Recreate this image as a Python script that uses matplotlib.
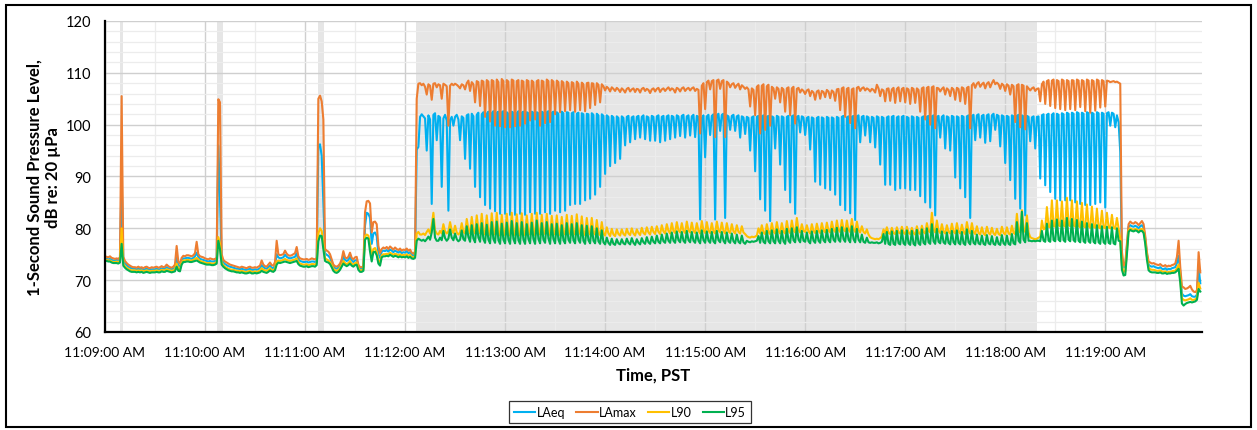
import numpy as np
import matplotlib.pyplot as plt
from matplotlib.patches import Rectangle

plt.rcParams['font.family'] = ['Lato', 'DejaVu Sans']

# 1-second sound levels (dB re 20 uPa), one value per second from 11:09:00
laeq = [
    74.2, 74.1, 74.0, 74.1, 73.9, 73.8, 73.8, 73.9, 73.8, 74.0,  # 0
    90.0, 73.8, 73.2, 72.9, 72.6, 72.4, 72.3, 72.2, 72.2, 72.1,
    72.2, 72.1, 72.2, 72.0, 72.1, 72.2, 72.1, 72.0, 72.1, 72.1,
    72.1, 72.2, 72.1, 72.1, 72.3, 72.2, 72.2, 72.5, 72.3, 72.2,
    72.1, 72.2, 72.5, 74.3, 72.8, 72.6, 73.8, 74.2, 74.2, 74.3,
    74.3, 74.2, 74.1, 74.3, 74.6, 75.3, 74.5, 74.1, 74.0, 73.9,
    73.8, 73.7, 73.6, 73.7, 73.6, 73.6, 73.7, 73.9, 96.0, 86.0,  # 60
    74.2, 73.4, 73.1, 72.9, 72.7, 72.6, 72.5, 72.4, 72.3, 72.2,
    72.2, 72.1, 72.2, 72.1, 72.0, 72.0, 72.1, 72.2, 72.0, 72.0,
    72.1, 72.0, 72.1, 72.3, 72.9, 72.5, 72.3, 72.2, 72.5, 72.8,
    72.4, 72.3, 72.8, 75.0, 74.4, 74.2, 74.3, 74.4, 74.9, 74.5,
    74.3, 74.2, 74.3, 74.4, 74.5, 75.2, 74.0, 73.7, 73.6, 73.5,
    73.5, 73.6, 73.4, 73.5, 73.6, 73.6, 73.5, 73.8, 96.0, 96.2,  # 120
    94.0, 85.0, 75.2, 74.9, 74.7, 74.3, 73.5, 72.6, 72.3, 72.2,
    72.4, 72.8, 73.5, 74.6, 73.9, 73.7, 73.9, 74.5, 73.8, 73.5,
    73.8, 73.9, 72.7, 72.2, 72.2, 72.4, 80.5, 83.0, 82.8, 82.0,
    77.0, 79.0, 79.2, 78.5, 75.0, 74.3, 75.5, 75.7, 75.6, 75.8,
    75.5, 75.9, 75.7, 75.4, 75.7, 75.5, 75.3, 75.6, 75.2, 75.4,
    75.3, 75.6, 75.2, 75.4, 74.9, 74.7, 75.0, 95.2, 95.7, 101.5,  # 180
    102.0, 101.6, 101.2, 95.0, 101.8, 101.0, 84.7, 101.9, 102.2, 97.0,
    101.7, 101.4, 88.0, 101.2, 101.9, 100.8, 83.4, 100.9, 101.5, 99.8,
    101.5, 101.9, 101.0, 97.0, 101.6, 101.3, 93.4, 101.8, 102.0, 91.5,
    102.1, 101.6, 88.0, 101.9, 102.3, 86.0, 102.0, 102.4, 84.5, 102.1,
    102.5, 83.8, 102.2, 102.6, 83.3, 102.3, 102.5, 82.8, 102.4, 102.6,
    82.8, 102.4, 102.1, 82.6, 102.5, 102.3, 82.6, 102.2, 102.6, 82.8,  # 240
    102.3, 102.5, 82.6, 102.4, 102.2, 83.1, 102.5, 102.3, 82.8, 102.4,
    102.2, 82.8, 102.5, 102.3, 83.1, 102.4, 102.6, 82.8, 102.3, 102.5,
    83.4, 102.4, 102.1, 83.1, 102.5, 102.2, 83.4, 102.4, 102.3, 84.5,
    102.2, 102.4, 84.7, 102.1, 102.3, 84.7, 102.2, 102.0, 85.4, 102.1,
    102.0, 85.7, 102.2, 101.9, 86.5, 102.1, 101.8, 88.0, 102.0, 101.7,
    90.5, 101.8, 101.5, 92.0, 101.7, 101.4, 92.6, 101.6, 101.3, 93.4,  # 300
    101.6, 101.3, 96.0, 101.5, 101.7, 96.6, 101.4, 101.6, 97.2, 101.5,
    101.7, 97.5, 101.5, 101.8, 97.2, 101.6, 101.4, 96.9, 101.7, 101.5,
    96.9, 101.6, 101.8, 96.6, 101.5, 101.7, 96.9, 101.6, 101.8, 97.2,
    101.7, 101.5, 97.5, 101.8, 101.6, 97.8, 101.7, 101.9, 97.5, 101.6,
    101.8, 97.9, 101.6, 101.9, 97.6, 101.7, 101.5, 81.7, 101.3, 101.8,
    93.7, 101.6, 101.9, 98.0, 101.7, 102.0, 81.7, 101.8, 102.1, 98.8,  # 360
    101.9, 102.1, 82.0, 101.8, 101.6, 99.0, 101.7, 101.9, 98.8, 101.6,
    101.8, 97.5, 101.6, 101.4, 98.2, 101.5, 101.3, 95.0, 101.4, 101.6,
    91.0, 101.5, 101.7, 85.6, 101.6, 101.8, 83.4, 101.5, 101.7, 81.4,
    101.6, 101.4, 95.4, 101.7, 101.5, 92.3, 101.6, 101.4, 87.4, 101.5,
    101.7, 85.0, 101.6, 101.8, 82.8, 101.5, 101.7, 98.5, 101.6, 101.4,
    98.0, 101.3, 101.5, 95.2, 101.4, 101.2, 89.0, 101.3, 101.5, 88.4,  # 420
    101.4, 101.2, 87.7, 101.5, 101.3, 87.4, 101.4, 101.2, 86.5, 101.5,
    101.3, 84.5, 101.5, 101.7, 83.5, 101.4, 101.6, 82.9, 101.5, 101.7,
    81.6, 101.6, 101.8, 96.6, 101.5, 101.7, 97.9, 101.6, 101.4, 96.6,
    101.5, 101.3, 95.6, 101.6, 101.4, 92.3, 101.5, 101.3, 88.4, 101.4,
    101.6, 88.4, 101.5, 101.7, 87.4, 101.4, 101.6, 87.7, 101.5, 101.7,
    87.7, 101.5, 101.3, 87.4, 101.6, 101.4, 87.4, 101.5, 101.3, 86.2,  # 480
    101.4, 101.6, 85.0, 101.5, 101.7, 84.0, 101.6, 101.8, 82.5, 101.5,
    101.7, 97.5, 101.5, 101.8, 95.4, 101.6, 101.4, 95.0, 101.7, 101.5,
    89.8, 101.6, 101.4, 87.7, 101.7, 101.5, 86.0, 101.6, 101.8, 82.0,
    101.7, 101.9, 97.0, 101.8, 102.0, 97.5, 101.7, 101.9, 96.5, 101.8,
    102.0, 96.8, 101.8, 102.1, 99.0, 101.9, 101.7, 95.8, 101.8, 101.6,
    92.6, 101.7, 101.5, 89.3, 101.8, 101.6, 85.7, 101.7, 101.9, 83.8,  # 540
    101.8, 101.6, 82.5, 101.7, 101.5, 96.8, 101.4, 101.6, 95.4, 101.5,
    101.6, 89.6, 101.8, 102.0, 88.3, 101.9, 102.1, 87.0, 101.9, 102.2,
    85.7, 102.1, 101.9, 85.4, 102.2, 102.0, 85.4, 102.3, 102.1, 85.4,
    102.3, 102.1, 85.0, 102.4, 102.2, 84.7, 102.3, 102.1, 84.5, 102.4,
    102.2, 84.5, 102.3, 102.1, 84.7, 102.4, 102.2, 85.0, 102.3, 102.1,
    84.0, 102.2, 102.4, 99.8, 102.3, 102.1, 99.5, 101.8, 100.5, 94.7,  # 600
    74.0, 72.4, 72.6, 76.5, 80.3, 80.6, 80.4, 80.3, 80.5, 80.3,
    80.0, 80.4, 80.6, 80.1, 78.0, 75.0, 73.0, 72.7, 72.6, 72.7,
    72.5, 72.4, 72.3, 72.5, 72.2, 72.1, 72.3, 72.0, 72.2, 72.1,
    72.3, 72.4, 72.5, 73.3, 74.7, 71.5, 67.4, 67.0, 66.9, 67.0,
    67.1, 67.3, 66.9, 66.8, 66.8, 67.2, 72.6, 69.4,
]

lamax = [
    74.6, 74.5, 74.4, 74.6, 74.3, 74.2, 74.1, 74.2, 74.1, 74.4,  # 0
    105.5, 74.5, 73.7, 73.3, 73.0, 72.8, 72.6, 72.5, 72.5, 72.4,
    72.6, 72.4, 72.5, 72.3, 72.5, 72.6, 72.4, 72.3, 72.5, 72.4,
    72.5, 72.6, 72.4, 72.5, 72.7, 72.5, 72.6, 73.0, 72.7, 72.5,
    72.4, 72.6, 73.0, 76.6, 73.6, 73.2, 74.3, 74.7, 74.6, 74.8,
    74.8, 74.7, 74.6, 74.8, 75.2, 77.4, 75.0, 74.6, 74.5, 74.4,
    74.2, 74.1, 74.0, 74.2, 74.1, 74.0, 74.1, 74.3, 104.9, 104.3,  # 60
    75.0, 73.9, 73.6, 73.4, 73.2, 73.0, 72.9, 72.8, 72.7, 72.6,
    72.5, 72.4, 72.6, 72.5, 72.4, 72.3, 72.5, 72.6, 72.4, 72.4,
    72.5, 72.4, 72.6, 72.8, 73.8, 73.0, 72.7, 72.6, 73.0, 73.4,
    72.9, 72.8, 73.5, 77.6, 75.0, 74.8, 74.9, 75.0, 75.7, 75.1,
    74.8, 74.7, 74.8, 75.0, 75.2, 76.4, 74.6, 74.2, 74.1, 74.0,
    74.0, 74.1, 73.9, 74.0, 74.2, 74.1, 74.0, 74.3, 105.0, 105.6,  # 120
    104.5, 101.0, 76.0, 75.7, 75.5, 75.0, 74.0, 73.0, 72.7, 72.6,
    72.8, 73.2, 74.0, 75.6, 74.4, 74.2, 74.5, 75.3, 74.3, 74.0,
    74.4, 74.5, 73.0, 72.5, 72.5, 72.7, 83.1, 85.2, 85.3, 84.8,
    79.2, 81.2, 81.3, 80.8, 76.6, 75.2, 76.0, 76.3, 76.1, 76.4,
    76.0, 76.5, 76.2, 75.9, 76.3, 76.0, 75.8, 76.1, 75.7, 75.9,
    75.8, 76.1, 75.7, 75.9, 75.3, 75.1, 75.5, 105.0, 107.9, 108.0,  # 180
    107.6, 107.9, 107.3, 105.8, 107.8, 107.5, 104.8, 107.9, 108.0, 107.2,
    107.8, 107.6, 105.0, 107.9, 107.7, 107.4, 99.8, 107.5, 107.9, 107.6,
    107.9, 107.7, 107.4, 107.0, 107.8, 107.6, 106.8, 108.0, 108.5, 106.5,
    108.2, 107.8, 104.3, 108.4, 108.2, 103.6, 108.5, 108.3, 101.5, 108.6,
    108.3, 100.6, 108.6, 108.4, 99.8, 108.7, 108.2, 99.7, 108.8, 108.4,
    99.5, 108.6, 108.3, 99.5, 108.7, 108.5, 99.7, 108.4, 108.6, 99.8,  # 240
    108.5, 108.3, 100.2, 108.6, 108.4, 100.8, 108.5, 108.2, 101.0, 108.4,
    108.6, 99.8, 108.5, 108.3, 100.3, 108.7, 108.4, 100.5, 108.6, 108.3,
    102.0, 108.5, 108.2, 102.4, 108.4, 108.1, 102.6, 108.3, 108.0, 102.8,
    108.2, 108.0, 102.5, 108.3, 107.9, 102.8, 108.1, 107.8, 102.6, 108.0,
    108.1, 103.2, 108.0, 107.9, 103.8, 108.0, 107.7, 104.3, 107.8, 107.4,
    106.6, 107.3, 107.0, 106.4, 107.2, 106.9, 106.5, 107.1, 106.8, 106.3,  # 300
    107.0, 106.7, 106.2, 106.9, 107.1, 106.4, 106.8, 107.0, 106.3, 106.9,
    106.8, 106.2, 106.9, 107.1, 106.5, 106.9, 106.7, 106.1, 106.8, 107.0,
    106.4, 106.9, 107.1, 106.3, 106.8, 107.0, 106.5, 106.9, 107.2, 106.6,
    107.0, 106.8, 106.2, 107.1, 106.9, 106.4, 107.0, 107.2, 106.5, 106.9,
    107.1, 106.6, 107.0, 107.2, 106.5, 106.9, 106.7, 98.3, 107.5, 108.0,
    103.0, 108.2, 108.5, 106.8, 108.4, 108.6, 97.6, 108.5, 108.7, 106.9,  # 360
    108.4, 108.6, 97.6, 108.3, 108.0, 107.2, 107.8, 108.0, 107.1, 107.6,
    107.9, 106.8, 107.6, 107.3, 106.9, 107.2, 106.8, 103.5, 107.0, 106.7,
    101.8, 107.3, 107.6, 98.3, 107.5, 107.8, 99.0, 107.4, 107.7, 99.8,
    107.3, 107.0, 105.0, 107.2, 106.9, 104.3, 107.1, 106.8, 102.5, 107.0,
    107.2, 101.8, 107.0, 107.3, 100.2, 106.9, 107.1, 106.2, 106.8, 106.5,
    105.9, 106.6, 106.8, 105.5, 106.5, 106.2, 104.8, 106.4, 106.6, 105.0,  # 420
    106.5, 106.3, 105.3, 106.7, 106.4, 105.1, 106.6, 106.3, 104.6, 106.8,
    106.9, 102.8, 107.0, 107.2, 101.5, 106.9, 107.1, 100.3, 106.8, 107.0,
    99.3, 107.1, 107.3, 106.5, 107.0, 107.2, 106.6, 107.0, 106.8, 106.4,
    106.9, 106.7, 106.2, 107.7, 107.0, 105.5, 106.8, 106.6, 104.5, 106.9,
    107.0, 104.6, 106.8, 107.1, 104.2, 106.9, 107.2, 104.5, 106.9, 107.1,
    104.3, 107.0, 106.8, 104.0, 107.1, 106.9, 104.2, 107.0, 106.7, 102.5,  # 480
    107.0, 107.2, 101.0, 107.1, 107.3, 100.0, 107.2, 107.4, 99.3, 107.1,
    107.0, 106.4, 106.9, 107.2, 105.8, 107.0, 106.7, 105.5, 107.1, 106.8,
    104.8, 107.1, 106.9, 104.5, 107.2, 107.0, 104.0, 107.1, 107.3, 99.3,
    107.6, 108.0, 107.1, 107.9, 108.2, 107.3, 107.8, 108.1, 107.0, 107.9,
    108.2, 107.2, 108.0, 108.6, 107.8, 108.1, 107.8, 106.9, 107.9, 107.6,
    106.5, 107.8, 107.5, 105.8, 107.7, 107.4, 100.5, 107.6, 107.8, 99.5,  # 540
    107.7, 107.5, 99.1, 107.4, 107.0, 106.6, 107.0, 107.2, 106.5, 106.9,
    107.0, 104.5, 107.8, 108.3, 104.0, 108.4, 108.6, 103.6, 108.5, 108.7,
    103.2, 108.6, 108.4, 103.0, 108.7, 108.5, 102.8, 108.6, 108.4, 103.0,
    108.6, 108.5, 102.8, 108.7, 108.5, 103.4, 108.6, 108.4, 102.6, 108.7,
    108.5, 102.3, 108.6, 108.4, 102.7, 108.7, 108.5, 103.3, 108.6, 108.4,
    103.5, 108.5, 108.4, 108.2, 108.3, 108.4, 108.2, 108.3, 108.1, 107.9,  # 600
    75.5, 72.8, 73.2, 77.0, 80.8, 81.3, 81.0, 80.9, 81.2, 81.0,
    80.6, 81.0, 81.4, 80.8, 78.5, 75.4, 73.6, 73.4, 73.2, 73.3,
    73.1, 73.0, 72.9, 73.1, 72.8, 72.7, 72.9, 72.6, 72.8, 72.7,
    72.9, 73.0, 73.2, 74.5, 77.6, 72.5, 68.8, 68.6, 68.3, 68.4,
    68.6, 68.9, 68.2, 67.8, 67.7, 68.0, 75.4, 71.5,
]

l90 = [
    74.0, 73.9, 73.8, 73.8, 73.6, 73.5, 73.5, 73.6, 73.5, 73.7,  # 0
    80.0, 73.2, 72.7, 72.4, 72.2, 72.0, 71.9, 71.9, 71.9, 71.8,
    71.9, 71.8, 71.9, 71.7, 71.8, 71.9, 71.8, 71.7, 71.8, 71.8,
    71.8, 71.9, 71.8, 71.8, 72.0, 71.9, 71.9, 72.1, 72.0, 71.9,
    71.8, 71.9, 72.1, 73.2, 72.2, 72.1, 73.3, 73.8, 73.8, 73.9,
    73.9, 73.8, 73.8, 73.9, 74.1, 74.3, 74.0, 73.7, 73.6, 73.5,
    73.4, 73.3, 73.3, 73.3, 73.2, 73.2, 73.3, 73.5, 78.3, 77.0,  # 60
    73.5, 72.9, 72.6, 72.4, 72.2, 72.1, 72.0, 72.0, 71.9, 71.8,
    71.8, 71.7, 71.8, 71.7, 71.6, 71.6, 71.7, 71.8, 71.6, 71.6,
    71.7, 71.6, 71.7, 71.9, 72.3, 72.0, 71.9, 71.8, 72.0, 72.3,
    72.0, 71.9, 72.3, 73.6, 73.8, 73.7, 73.8, 73.9, 74.1, 73.9,
    73.8, 73.7, 73.8, 73.9, 74.0, 74.2, 73.5, 73.2, 73.1, 73.0,
    73.0, 73.1, 72.9, 73.0, 73.1, 73.1, 73.0, 73.3, 79.0, 80.0,  # 120
    79.5, 77.0, 74.2, 74.0, 73.8, 73.5, 72.9, 72.2, 71.9, 71.8,
    72.0, 72.4, 73.0, 73.7, 73.3, 73.1, 73.3, 73.7, 73.2, 73.0,
    73.3, 73.4, 72.3, 71.9, 71.9, 72.0, 78.5, 78.8, 78.6, 77.0,
    74.5, 76.0, 76.2, 75.5, 73.8, 73.4, 74.8, 75.0, 75.0, 75.1,
    75.0, 75.3, 75.1, 74.9, 75.1, 75.0, 74.8, 75.0, 74.8, 74.9,
    74.8, 75.0, 74.7, 74.9, 74.5, 74.4, 74.6, 79.0, 79.3, 78.8,  # 180
    78.8, 79.0, 78.7, 79.3, 79.8, 79.0, 80.5, 83.0, 79.6, 79.0,
    78.8, 79.5, 79.0, 80.8, 79.4, 79.0, 79.4, 81.2, 79.6, 79.1,
    80.5, 79.2, 78.8, 79.2, 81.0, 79.3, 79.0, 81.8, 79.8, 79.0,
    82.2, 79.6, 79.0, 82.5, 79.8, 79.0, 82.8, 79.5, 78.8, 82.5,
    79.4, 78.7, 82.9, 79.6, 78.8, 83.0, 79.3, 78.6, 82.6, 79.5,
    78.7, 82.8, 79.4, 78.6, 83.0, 79.5, 78.7, 82.7, 79.3, 78.6,  # 240
    82.9, 79.4, 78.7, 82.5, 79.5, 78.8, 82.8, 79.6, 78.7, 83.0,
    79.5, 78.8, 82.6, 79.4, 78.9, 82.8, 79.6, 78.7, 82.4, 79.5,
    78.8, 82.5, 79.4, 78.7, 82.2, 79.3, 78.8, 82.6, 79.4, 78.9,
    82.4, 79.3, 78.8, 82.7, 79.5, 78.9, 82.3, 79.2, 78.7, 82.0,
    79.3, 78.8, 82.0, 79.2, 78.8, 81.6, 79.1, 78.7, 81.2, 79.0,
    78.6, 80.2, 79.0, 78.5, 79.9, 78.8, 78.5, 79.8, 78.9, 78.6,  # 300
    79.8, 78.9, 78.6, 79.9, 79.0, 78.7, 80.0, 79.0, 78.6, 79.8,
    79.1, 78.7, 80.1, 79.1, 78.8, 80.2, 79.2, 78.8, 80.3, 79.3,
    78.9, 80.4, 79.3, 78.9, 80.6, 79.4, 79.0, 80.8, 79.5, 79.0,
    81.0, 79.5, 79.1, 81.2, 79.6, 79.2, 81.0, 79.5, 79.1, 81.3,
    79.6, 79.2, 81.1, 79.5, 79.1, 81.0, 79.5, 79.0, 81.4, 79.6,
    79.1, 81.2, 79.5, 79.1, 81.0, 79.4, 79.0, 81.3, 79.6, 79.2,  # 360
    81.1, 79.5, 79.0, 81.0, 79.4, 79.1, 80.8, 79.4, 79.0, 80.6,
    79.3, 79.0, 80.4, 79.2, 78.9, 78.5, 78.3, 78.2, 78.4, 78.3,
    78.4, 78.6, 80.0, 79.0, 80.6, 79.2, 78.9, 80.8, 79.3, 78.9,
    81.0, 79.4, 79.0, 81.2, 79.5, 79.0, 81.0, 79.4, 79.0, 81.4,
    79.5, 79.1, 81.5, 79.6, 79.2, 82.0, 79.7, 79.2, 80.8, 79.5,
    79.3, 80.6, 79.4, 79.0, 80.8, 79.5, 79.1, 80.9, 79.5, 79.1,  # 420
    81.0, 79.6, 79.2, 81.1, 79.6, 79.2, 81.3, 79.7, 79.3, 81.5,
    79.7, 79.3, 81.6, 79.8, 79.4, 81.5, 79.7, 79.3, 81.8, 79.8,
    79.3, 81.3, 79.7, 79.2, 80.4, 79.3, 79.0, 79.8, 78.8, 78.3,
    78.1, 78.0, 77.9, 78.0, 77.9, 78.1, 78.4, 79.8, 79.0, 80.2,
    79.1, 78.9, 80.1, 79.1, 78.9, 80.2, 79.2, 79.0, 80.3, 79.2,
    78.9, 80.3, 79.2, 78.9, 80.1, 79.1, 78.8, 80.4, 79.2, 78.9,  # 480
    80.5, 79.3, 79.0, 81.0, 79.5, 79.2, 83.0, 79.8, 79.2, 81.5,
    79.5, 79.1, 80.8, 79.4, 79.0, 80.6, 79.3, 79.0, 80.9, 79.4,
    79.0, 81.0, 79.4, 79.0, 80.7, 79.3, 78.9, 81.2, 79.5, 79.0,
    81.0, 79.3, 78.9, 80.4, 79.1, 78.8, 80.2, 79.0, 78.7, 80.3,
    79.1, 78.8, 80.1, 79.0, 78.7, 79.9, 78.9, 78.7, 80.3, 79.1,
    78.8, 80.2, 79.0, 78.8, 80.5, 79.1, 78.9, 82.8, 79.6, 79.2,  # 540
    83.5, 79.7, 79.3, 82.5, 79.2, 78.3, 78.1, 78.0, 77.9, 78.0,
    78.2, 78.4, 81.5, 79.8, 80.0, 84.1, 80.3, 80.2, 85.4, 80.5,
    80.3, 85.4, 80.6, 80.4, 85.2, 80.6, 80.3, 85.9, 80.7, 80.4,
    85.4, 80.6, 80.3, 85.2, 80.5, 80.2, 84.9, 80.4, 80.2, 84.6,
    80.4, 80.1, 84.2, 80.3, 80.1, 83.8, 80.2, 80.0, 83.4, 80.2,
    80.0, 83.0, 80.2, 80.0, 82.6, 80.1, 79.9, 82.0, 80.0, 78.0,  # 600
    72.8, 71.6, 71.7, 75.5, 79.6, 80.0, 79.8, 79.7, 79.9, 79.8,
    79.5, 79.8, 79.9, 79.5, 77.5, 74.5, 72.4, 72.1, 72.0, 72.0,
    71.9, 71.8, 71.8, 71.9, 71.7, 71.6, 71.7, 71.5, 71.6, 71.6,
    71.7, 71.8, 71.8, 72.3, 73.0, 70.2, 66.5, 66.2, 66.1, 66.2,
    66.3, 66.5, 66.2, 66.2, 66.3, 66.6, 69.5, 68.4,
]

l95 = [
    73.8, 73.7, 73.6, 73.6, 73.4, 73.3, 73.3, 73.3, 73.2, 73.4,  # 0
    77.0, 72.8, 72.4, 72.1, 71.9, 71.7, 71.6, 71.6, 71.6, 71.5,
    71.6, 71.5, 71.6, 71.4, 71.5, 71.6, 71.5, 71.4, 71.5, 71.5,
    71.5, 71.6, 71.5, 71.5, 71.7, 71.6, 71.6, 71.8, 71.7, 71.6,
    71.5, 71.6, 71.7, 72.6, 71.8, 71.7, 73.0, 73.5, 73.5, 73.6,
    73.6, 73.5, 73.5, 73.6, 73.7, 73.8, 73.6, 73.4, 73.3, 73.2,
    73.1, 73.0, 73.0, 73.0, 72.9, 72.9, 73.0, 73.2, 77.6, 76.0,  # 60
    73.0, 72.6, 72.3, 72.1, 71.9, 71.8, 71.7, 71.7, 71.6, 71.5,
    71.5, 71.4, 71.5, 71.4, 71.3, 71.3, 71.4, 71.5, 71.3, 71.3,
    71.4, 71.3, 71.4, 71.5, 71.8, 71.6, 71.5, 71.4, 71.6, 71.9,
    71.7, 71.6, 71.9, 73.0, 73.4, 73.3, 73.4, 73.5, 73.6, 73.5,
    73.4, 73.3, 73.4, 73.5, 73.6, 73.7, 73.1, 72.8, 72.7, 72.6,
    72.6, 72.7, 72.5, 72.6, 72.7, 72.7, 72.6, 72.9, 77.5, 78.6,  # 120
    78.5, 76.0, 73.7, 73.5, 73.4, 73.1, 72.5, 71.8, 71.5, 71.4,
    71.6, 72.0, 72.6, 73.2, 72.9, 72.7, 72.9, 73.2, 72.8, 72.6,
    72.9, 73.0, 72.0, 71.6, 71.6, 71.8, 77.8, 78.2, 78.0, 75.5,
    73.6, 75.4, 75.5, 74.8, 73.2, 72.8, 74.4, 74.6, 74.6, 74.7,
    74.6, 74.9, 74.7, 74.5, 74.7, 74.6, 74.4, 74.6, 74.4, 74.5,
    74.4, 74.6, 74.3, 74.5, 74.2, 74.1, 74.3, 77.6, 78.0, 77.8,  # 180
    77.6, 77.8, 77.5, 77.9, 78.4, 77.8, 79.2, 81.8, 78.2, 77.6,
    77.6, 78.2, 77.7, 79.5, 78.1, 77.6, 78.0, 79.8, 78.2, 77.7,
    79.0, 77.9, 77.5, 77.8, 79.6, 77.9, 77.6, 80.4, 78.3, 77.4,
    80.6, 78.0, 77.3, 80.8, 78.2, 77.4, 81.0, 77.9, 77.2, 80.7,
    77.8, 77.1, 81.2, 77.9, 77.2, 81.3, 77.7, 77.0, 80.9, 77.8,
    77.1, 81.1, 77.8, 77.0, 81.4, 77.9, 77.1, 81.0, 77.7, 77.0,  # 240
    81.2, 77.8, 77.0, 80.8, 77.9, 77.1, 81.1, 77.9, 77.0, 81.5,
    77.9, 77.1, 81.0, 77.8, 77.2, 81.2, 78.0, 77.0, 80.8, 77.9,
    77.1, 80.9, 77.8, 77.0, 80.6, 77.7, 77.1, 81.0, 77.8, 77.2,
    80.8, 77.7, 77.1, 81.0, 77.8, 77.2, 80.6, 77.6, 77.0, 80.5,
    77.7, 77.1, 80.4, 77.6, 77.1, 80.0, 77.5, 77.0, 79.6, 77.3,
    76.9, 78.2, 77.2, 76.8, 78.0, 77.0, 76.8, 77.9, 77.1, 76.9,  # 300
    77.9, 77.1, 76.9, 78.0, 77.2, 76.9, 78.1, 77.2, 76.8, 77.9,
    77.2, 76.9, 78.1, 77.3, 77.0, 78.3, 77.3, 77.0, 78.4, 77.4,
    77.1, 78.6, 77.4, 77.1, 78.8, 77.5, 77.2, 79.0, 77.6, 77.2,
    79.2, 77.6, 77.2, 79.4, 77.7, 77.3, 79.3, 77.6, 77.2, 79.5,
    77.7, 77.3, 79.3, 77.6, 77.2, 79.2, 77.6, 77.1, 79.6, 77.7,
    77.2, 79.4, 77.6, 77.2, 79.3, 77.5, 77.1, 79.5, 77.7, 77.3,  # 360
    79.3, 77.6, 77.1, 79.2, 77.5, 77.2, 79.0, 77.5, 77.1, 78.8,
    77.4, 77.1, 78.6, 77.3, 77.0, 77.6, 77.4, 77.3, 77.5, 77.4,
    77.5, 77.6, 78.5, 77.2, 79.2, 77.4, 77.1, 79.5, 77.5, 77.1,
    79.6, 77.5, 77.1, 79.8, 77.6, 77.1, 79.5, 77.5, 77.0, 79.9,
    77.6, 77.2, 80.0, 77.7, 77.3, 80.2, 77.8, 77.3, 79.5, 77.6,
    77.4, 79.2, 77.5, 77.1, 79.4, 77.6, 77.2, 79.5, 77.6, 77.2,  # 420
    79.6, 77.7, 77.3, 79.7, 77.7, 77.3, 79.9, 77.8, 77.4, 80.1,
    77.8, 77.4, 80.2, 77.9, 77.4, 80.0, 77.8, 77.3, 80.4, 77.9,
    77.3, 79.9, 77.8, 77.3, 78.8, 77.4, 77.2, 78.2, 77.3, 77.2,
    77.3, 77.2, 77.2, 77.3, 77.1, 77.2, 77.4, 78.9, 77.0, 79.3,
    77.0, 76.8, 79.4, 77.0, 76.8, 79.5, 77.1, 76.9, 79.6, 77.1,
    76.8, 79.6, 77.1, 76.8, 79.5, 77.0, 76.7, 79.7, 77.1, 76.8,  # 480
    79.8, 77.2, 76.9, 80.0, 77.3, 77.0, 80.8, 77.5, 77.0, 79.9,
    77.4, 77.1, 79.4, 77.3, 77.0, 79.2, 77.2, 76.9, 79.5, 77.3,
    76.9, 79.6, 77.2, 76.9, 79.3, 77.1, 76.8, 79.8, 77.3, 76.9,
    79.5, 77.2, 76.9, 78.8, 77.1, 76.9, 78.6, 77.0, 76.8, 78.7,
    77.1, 76.9, 78.5, 77.0, 76.8, 78.3, 77.0, 76.8, 78.7, 77.1,
    76.8, 78.6, 77.0, 76.8, 78.9, 77.1, 76.9, 81.2, 77.6, 77.2,  # 540
    83.2, 77.8, 77.3, 81.0, 77.6, 77.6, 77.5, 77.6, 77.5, 77.6,
    77.6, 77.5, 79.5, 77.6, 77.4, 80.9, 77.6, 77.4, 81.5, 77.7,
    77.5, 81.7, 77.8, 77.5, 81.5, 77.7, 77.4, 82.0, 77.8, 77.5,
    81.8, 77.7, 77.4, 81.6, 77.6, 77.3, 81.3, 77.5, 77.2, 81.0,
    77.5, 77.2, 80.8, 77.4, 77.1, 80.6, 77.3, 77.0, 80.4, 77.3,
    77.0, 80.3, 77.2, 77.0, 80.2, 77.1, 76.9, 80.0, 77.6, 77.5,  # 600
    72.0, 70.9, 71.0, 75.0, 79.3, 79.7, 79.5, 79.4, 79.6, 79.5,
    79.2, 79.5, 79.5, 79.1, 77.0, 74.0, 71.9, 71.6, 71.5, 71.5,
    71.5, 71.4, 71.4, 71.5, 71.3, 71.3, 71.4, 71.2, 71.3, 71.3,
    71.4, 71.4, 71.5, 71.8, 72.2, 69.5, 65.5, 65.1, 65.4, 65.6,
    65.7, 65.8, 65.7, 65.8, 65.9, 66.2, 68.3, 67.8,
]

series_names = ['LAeq', 'LAmax', 'L90', 'L95']
series_colors = ['#00B0F0', '#ED7D31', '#FFC000', '#00B050']

# shaded periods, seconds after 11:09:00
event_spans = [(9, 11), (67.5, 71), (127.5, 131.5), (186.5, 559)]

tick_labels = ['11:09:00 AM', '11:10:00 AM', '11:11:00 AM', '11:12:00 AM',
               '11:13:00 AM', '11:14:00 AM', '11:15:00 AM', '11:16:00 AM',
               '11:17:00 AM', '11:18:00 AM', '11:19:00 AM']

fig = plt.figure(figsize=(12.57, 4.31), dpi=100)
ax = fig.add_axes([0.0835, 0.2274, 0.8727, 0.7216])

for start, end in event_spans:
    ax.axvspan(start, end, color='#e6e6e6', lw=0, zorder=0.2)

for name, values, color in zip(series_names, [laeq, lamax, l90, l95], series_colors):
    ax.plot(np.arange(len(values)), values, color=color, lw=1.5, label=name, zorder=2)

ax.set_xlim(0, 658)
ax.set_ylim(60, 120)
ax.set_xticks(np.arange(len(tick_labels)) * 60)
ax.set_xticklabels(tick_labels)
ax.set_xticks(np.arange(30, 660, 60), minor=True)
ax.set_yticks(np.arange(60, 121, 10))
ax.set_yticks(np.arange(60, 121, 2), minor=True)

ax.set_axisbelow(True)
ax.grid(which='major', color='#cfcfcf', lw=1.0)
ax.grid(which='minor', color='#ececec', lw=0.9)

for side in ['top', 'right']:
    ax.spines[side].set_visible(False)
for side in ['left', 'bottom']:
    ax.spines[side].set_linewidth(1.6)
    ax.spines[side].set_color('black')

ax.tick_params(which='both', length=0)
ax.tick_params(axis='y', labelsize=10.5, pad=10)
ax.tick_params(axis='x', labelsize=10, pad=10)

ax.set_xlabel('Time, PST', fontsize=12, fontweight='bold', labelpad=6)
ax.set_ylabel('1-Second Sound Pressure Level,\ndB re: 20 µPa', fontsize=12,
              fontweight='bold', linespacing=1.2)
ax.yaxis.set_label_coords(-0.040, 0.5)

leg = fig.legend(loc='center', bbox_to_anchor=(630 / 1257, 1 - 413 / 431), ncol=4,
                 frameon=True, fancybox=False, edgecolor='black', fontsize=9,
                 handlelength=1.7, handletextpad=0.1, columnspacing=0.9,
                 borderpad=0.4)
leg.get_frame().set_linewidth(0.9)

fig.patches.append(Rectangle((6 / 1257, 3 / 431), 1245 / 1257, 422 / 431,
                             transform=fig.transFigure, fill=False,
                             edgecolor='black', lw=1.5))

fig.savefig('out.png', dpi=100)
